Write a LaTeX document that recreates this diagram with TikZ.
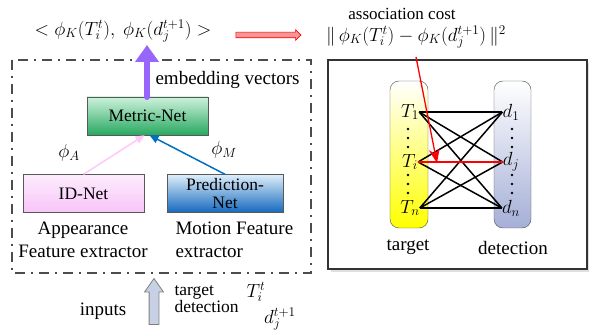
\RequirePackage{fix-cm}
\documentclass[tikz,border=0pt]{standalone}
\usepackage{fontspec}
\setmainfont{Liberation Serif}
\usetikzlibrary{arrows.meta,shapes.arrows}

\definecolor{metrictop}{RGB}{205,242,220}
\definecolor{metricbot}{RGB}{40,168,96}
\definecolor{idtop}{RGB}{253,236,253}
\definecolor{idbot}{RGB}{248,196,248}
\definecolor{predtop}{RGB}{222,238,250}
\definecolor{predbot}{RGB}{20,105,190}
\definecolor{embpurple}{RGB}{152,102,250}
\definecolor{phiblue}{RGB}{0,112,192}
\definecolor{phipink}{RGB}{255,200,250}
\definecolor{detbot}{RGB}{165,175,215}
\definecolor{inarrow}{RGB}{200,208,230}
\definecolor{costarrow}{RGB}{245,150,150}

\begin{document}
\begin{tikzpicture}[x=1pt, y=-1pt, font=\fontsize{19}{23}\selectfont]
	\tikzset{netbox/.style={rectangle, draw=gray!70!black, minimum width=121, minimum height=38, inner sep=0, align=center, font=\fontsize{17.5}{18}\selectfont}}
	\tikzset{bar/.style={rectangle, rounded corners=9, draw=gray!60!black, minimum width=38, minimum height=147, top color=white}}
	\tikzset{link/.style={thick, line width=1.5, draw=black}}

	\useasboundingbox (0,0) rectangle (589,331);

	% frames
	\draw [line width=1.5, draw=gray!60!black, dash pattern=on 10 off 6 on 2 off 6] (12,60) rectangle (311,273);
	\fill [gray!25] (331,63) rectangle (589,272);
	\draw [line width=1.6, draw=gray!40!black, fill=white] (328,60) rectangle (587,269);

	% top formulas
	\node[inner sep=1] at (123,31) (emb) {$<\phi_K(T_i^t),\ \phi_K(d_j^{t+1})>$};
	\node[inner sep=1] at (416,37) (cost) {$\|\,\phi_K(T_i^t)-\phi_K(d_j^{t+1})\,\|^2$};
	\node[inner sep=1, font=\fontsize{17}{18}\selectfont] at (402,14) (costlbl) {association cost};
	\node[single arrow, draw=red, fill=costarrow, line width=0.6, minimum height=65, inner xsep=0, inner ysep=2.5, single arrow head extend=2.5] at (267,35) (toarrow) {};

	% networks
	\node[netbox, top color=metrictop, bottom color=metricbot] at (147.5,116) (metric) {Metric-Net};
	\node[netbox, top color=idtop, bottom color=idbot] at (83.5,193.5) (idnet) {ID-Net};
	\node[netbox, minimum width=116, top color=predtop, bottom color=predbot] at (225,193.5) (prednet) {Prediction-\\Net};
	\coordinate (embtip) at (147,45);
	\draw [line width=6.5, draw=embpurple, line cap=round, -{Triangle[length=17pt,width=23pt]}] (metric.north -| embtip) -- (embtip);
	\node[anchor=west] at (152,80) (embtxt) {embedding vectors};
	\draw [line width=1.5, draw=phipink, -{Triangle[length=9pt,width=8pt]}] (idnet.north) -- ([xshift=-3]metric.south);
	\draw [line width=1.5, draw=phiblue, -{Triangle[length=9pt,width=8pt]}] (prednet.north) -- ([xshift=2]metric.south);
	\node at (69,153) (phia) {$\phi_A$};
	\node at (224,150) (phim) {$\phi_M$};
	\node[align=center] at (83,240) (appear) {Appearance\\Feature extractor};
	\node[align=left, anchor=west] at (172,240) (motion) {Motion Feature\\extractor};

	% inputs
	\node at (103,311) (inputs) {inputs};
	\node[single arrow, shape border rotate=90, draw=gray, fill=inarrow, line width=0.8, minimum height=46, inner xsep=4.5, inner ysep=0, single arrow head extend=4.5, single arrow tip angle=70] at (154,305) (inarr) {};
	\node[align=left, anchor=west, font=\fontsize{17.5}{17}\selectfont] at (171,299) (inlbl) {target\\detection};
	\node[inner sep=0] at (256,292) (tin) {$T_i^t$};
	\node[inner sep=0] at (280,319) (din) {$d_j^{t+1}$};

	% association
	\node[bar, bottom color=yellow] at (409,154.5) (tgtbar) {};
	\node[bar, minimum width=37, bottom color=detbot] at (512.5,154.5) (detbar) {};
	\node[inner sep=0] at (410,112) (t1) {$T_1$};
	\node[inner sep=0] at (410,162) (ti) {$T_i$};
	\node[inner sep=0] at (410,208) (tn) {$T_n$};
	\node[inner sep=0] at (511,112) (d1) {$d_1$};
	\node[inner sep=0] at (511,162) (dj) {$d_j$};
	\node[inner sep=0] at (511,208) (dn) {$d_n$};
	\foreach \y in {129,138,147,175,184,193}
	{
		\fill (408,\y) circle (1.4);
		\fill (512,\y) circle (1.4);
	}
	\draw [link] (t1.east) -- (d1.west);
	\draw [link] (t1.east) -- (dj.west);
	\draw [link] (t1.east) -- (dn.west);
	\draw [link] (ti.east) -- (d1.west);
	\draw [link] (ti.east) -- (dn.west);
	\draw [link] (tn.east) -- (d1.west);
	\draw [link] (tn.east) -- (dj.west);
	\draw [link] (tn.east) -- (dn.west);
	\draw [link, draw=red] (ti.east) -- (dj.west);
	\coordinate (redstart) at (416,57);
	\coordinate (redend) at (437,163);
	\draw [line width=1.3, draw=red, -{Stealth[length=14pt,width=11pt]}] (redstart) -- (redend);
	\node at (408,247) (tgtlbl) {target};
	\node at (513,248) (detlbl) {detection};
\end{tikzpicture}
\end{document}
